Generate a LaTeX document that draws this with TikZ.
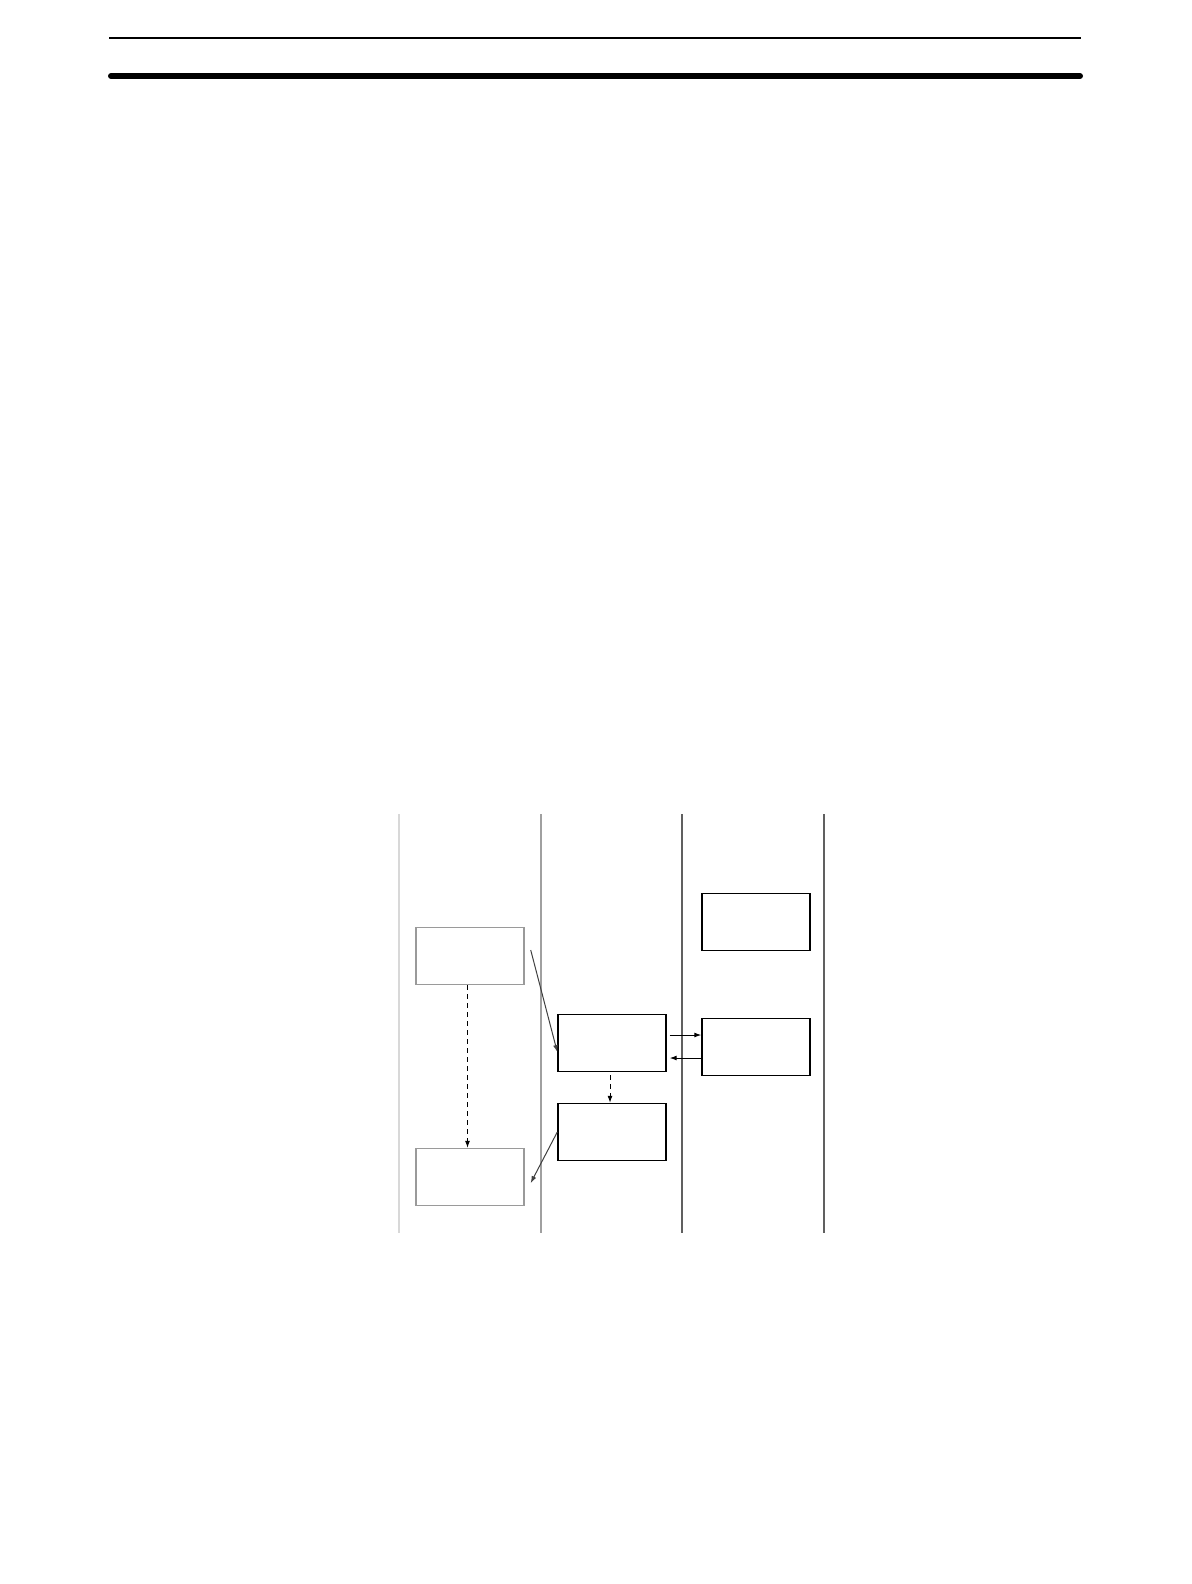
\documentclass[tikz,border=0pt]{standalone}
\usetikzlibrary{arrows.meta}
\definecolor{laneA}{HTML}{D8D8D8}
\definecolor{laneB}{HTML}{A0A0A0}
\definecolor{laneC}{HTML}{606060}
\definecolor{conngray}{HTML}{404040}
\definecolor{boxgray}{HTML}{9A9A9A}
\begin{document}
\begin{tikzpicture}[x=0.5pt,y=-0.5pt,
  box/.style={draw=black,line width=0.7pt,minimum width=54pt,minimum height=28.5pt,inner sep=0pt},
  graybox/.style={box,draw=boxgray},
  lane/.style={line width=0.6pt},
  conn/.style={line width=0.5pt,-{Latex[length=3.5pt,width=2.5pt]}},
  dconn/.style={conn,dash pattern=on 2.5pt off 2pt}]
\useasboundingbox (0,0) rectangle (1192,1584);
% header rules
\coordinate (h1l) at (109,38); \coordinate (h1r) at (1081,38);
\coordinate (h2l) at (111,76); \coordinate (h2r) at (1080,76);
\draw[line width=1pt] (h1l) -- (h1r);
\draw[line width=3pt,line cap=round] (h2l) -- (h2r);
% lanes
\coordinate (l1t) at (399,814); \coordinate (l1b) at (399,1233);
\coordinate (l2t) at (541,814); \coordinate (l2b) at (541,1233);
\coordinate (l3t) at (682,814); \coordinate (l3b) at (682,1233);
\coordinate (l4t) at (824,814); \coordinate (l4b) at (824,1233);
\draw[lane,laneA] (l1t) -- (l1b);
\draw[lane,laneB] (l2t) -- (l2b);
\draw[lane,laneC] (l3t) -- (l3b);
\draw[lane,laneC] (l4t) -- (l4b);
% boxes
\node[graybox] (A) at (470,956) {};
\node[graybox] (B) at (470,1177) {};
\node[box] (C) at (756,922) {};
\node[box] (D) at (612,1043) {};
\node[box] (E) at (756,1047) {};
\node[box] (F) at (612,1132) {};
% connectors
\draw[conn,draw=conngray] ([shift={(6,-6)}]A.east) -- ([shift={(0,9)}]D.west);
\draw[dconn] ([shift={(-2.5,0)}]A.south) -- ([shift={(-2.5,0)}]B.north);
\draw[dconn] ([shift={(-2,3)}]D.south) -- ([shift={(-2,0)}]F.north);
\draw[conn] ([shift={(3,-8)}]D.east) -- ([shift={(0,-12)}]E.west);
\draw[conn] ([shift={(0,11)}]E.west) -- ([shift={(3,15)}]D.east);
\draw[conn,draw=conngray] (F.west) -- ([shift={(6,6)}]B.east);
\end{tikzpicture}
\end{document}
